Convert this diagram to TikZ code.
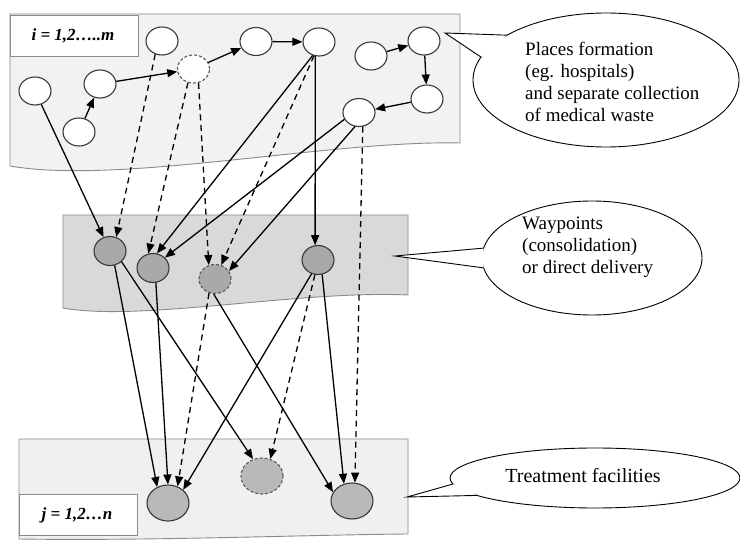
\documentclass[tikz,border=0pt]{standalone}
\usepackage{fontspec}
\setmainfont{Liberation Serif}
\usetikzlibrary{shapes.geometric,arrows.meta,calc}
\definecolor{toppanel}{HTML}{F2F2F2}
\definecolor{midpanel}{HTML}{D9D9D9}
\definecolor{botpanel}{HTML}{F0F0F0}
\definecolor{midfill}{HTML}{A9A9A9}
\definecolor{botfill}{HTML}{B9B9B9}
\definecolor{panelline}{HTML}{8A8A8A}
\definecolor{nodeline}{HTML}{383838}
\begin{document}
\begin{tikzpicture}[x=1pt,y=-1pt,
  panel/.style={draw=panelline,line width=0.9pt},
  labelbox/.style={draw=panelline,line width=0.9pt,fill=white},
  labeltext/.style={font=\fontsize{17}{20}\selectfont\bfseries\itshape,inner sep=0pt},
  calltext/.style={font=\fontsize{19}{22}\selectfont,align=left,inner sep=0pt},
  callout/.style={ellipse,draw=black,line width=0.9pt,fill=white,inner sep=0pt},
  topnode/.style={ellipse,draw=nodeline,line width=1.1pt,fill=white,minimum width=32pt,minimum height=28pt,inner sep=0pt},
  midnode/.style={ellipse,draw=nodeline,line width=1.1pt,fill=midfill,minimum width=32pt,minimum height=29pt,inner sep=0pt},
  botnode/.style={ellipse,draw=nodeline,line width=1.1pt,fill=botfill,minimum width=42pt,minimum height=36pt,inner sep=0pt},
  dnode/.style={dashed,dash pattern=on 3pt off 2pt,draw=black!65},
  arr/.style={line width=1.3pt,-{Triangle[length=10pt,width=8pt]}},
  darr/.style={arr,dash pattern=on 6pt off 4.5pt}
]
\useasboundingbox (0,0) rectangle (740,540);

% panels
\draw[panel,fill=toppanel] (10,14) -- (460,14) -- (460,143) .. controls (330,140) and (120,185) .. (10,166) -- cycle;
\draw[panel,fill=midpanel] (63,215) -- (408,215) -- (408,295) .. controls (300,290) and (140,322) .. (63,308) -- cycle;
\draw[panel,fill=botpanel] (19,439) -- (408,439) -- (408,534) .. controls (300,535) and (150,541) .. (19,539) -- cycle;

% label boxes
\node[labelbox,minimum width=128pt,minimum height=41pt,inner sep=0pt] (lbi) at (74,35.5) {};
\node[labeltext] (ti) at (73,35.5) {i = 1,2…..m};
\node[labelbox,minimum width=118pt,minimum height=41pt,inner sep=0pt] (lbj) at (78,514.5) {};
\node[labeltext] (tj) at (77,515) {j = 1,2…n};

% callouts
\node[callout,minimum width=266pt,minimum height=134pt] (c1) at (606,80) {};
\coordinate (c1a) at ($(c1.center)+({133*cos(138)},{-67*sin(138)})$);
\coordinate (c1b) at ($(c1.center)+({133*cos(160)},{-67*sin(160)})$);
\coordinate (c1t) at (445,33);
\fill[white] (c1t) -- (c1a) -- (c1b) -- cycle;
\draw[line width=0.9pt] (c1a) -- (c1t) -- (c1b);
\node[calltext,anchor=west] (t1) at (525,82) {Places formation\\(eg. hospitals)\\and separate collection\\of medical waste};

\node[callout,minimum width=220pt,minimum height=114pt] (c2) at (592,258) {};
\coordinate (c2a) at ($(c2.center)+({110*cos(170)},{-57*sin(170)})$);
\coordinate (c2b) at ($(c2.center)+({110*cos(190)},{-57*sin(190)})$);
\coordinate (c2t) at (395,256);
\fill[white] (c2t) -- (c2a) -- (c2b) -- cycle;
\draw[line width=0.9pt] (c2a) -- (c2t) -- (c2b);
\node[calltext,anchor=west] (t2) at (522,247.5) {Waypoints\\(consolidation)\\or direct delivery};

\node[callout,minimum width=290pt,minimum height=60pt] (c3) at (595,478) {};
\coordinate (c3a) at ($(c3.center)+({145*cos(191.6)},{-30*sin(191.6)})$);
\coordinate (c3b) at ($(c3.center)+({145*cos(215.5)},{-30*sin(215.5)})$);
\coordinate (c3t) at (407,497);
\fill[white] (c3t) -- (c3a) -- (c3b) -- cycle;
\draw[line width=0.9pt] (c3a) -- (c3t) -- (c3b);
\node[font=\fontsize{20}{24}\selectfont,inner sep=0pt] (t3) at (583,476) {Treatment facilities};

% top nodes
\node[topnode] (A) at (162,41) {};
\node[topnode,dnode] (B) at (193.5,69) {};
\node[topnode] (C) at (256,41.5) {};
\node[topnode] (D) at (319,42) {};
\node[topnode] (E) at (371,56) {};
\node[topnode] (F) at (424,41) {};
\node[topnode] (G) at (427,99) {};
\node[topnode] (H) at (359,112.5) {};
\node[topnode] (I) at (35,91) {};
\node[topnode] (J) at (100,84) {};
\node[topnode] (K) at (79,132) {};

% middle nodes
\node[midnode] (M1) at (110,251) {};
\node[midnode] (M2) at (153,268) {};
\node[midnode,dnode] (M3) at (215,279) {};
\node[midnode] (M4) at (318,260) {};

% bottom nodes
\node[botnode] (T1) at (168,503) {};
\node[botnode,dnode] (T2) at (262,476) {};
\node[botnode] (T3) at (352,501) {};

% top edges
\draw[arr] (K) -- (J);
\draw[arr] (J) -- (B);
\draw[arr] (B) -- (C);
\draw[arr] (C) -- (D);
\draw[arr] (E) -- (F);
\draw[arr] (F) -- (G);
\draw[arr] (G) -- (H);

% top to middle
\draw[arr] (I) -- (M1);
\draw[darr] (A.243) -- (M1.66);
\draw[darr] (B.248) -- (M2.108);
\draw[darr] (B.290) -- (M3.114);
\draw[arr] (D.245) -- (M2.75);
\draw[darr] (D.250) -- (M3.66);
\draw[arr] (D.255) -- (M4.101);
\draw[arr] (H.205) -- (M2.41);
\draw[arr] (H.254) -- (M3.30);
\draw[darr] (H.285) -- (T3.81);

% middle to bottom
\draw[arr] (M1.288) -- (T1.124);
\draw[arr] (M1.317) -- (T2.118);
\draw[arr] (M2.281) -- (T1.90);
\draw[darr] (M3.247) -- (T1.60);
\draw[arr] (M3.265) -- (T3.155);
\draw[arr] (M4.245) -- (T1.41);
\draw[darr] (M4.258) -- (T2.64);
\draw[arr] (M4.286) -- (T3.115);
\end{tikzpicture}
\end{document}
